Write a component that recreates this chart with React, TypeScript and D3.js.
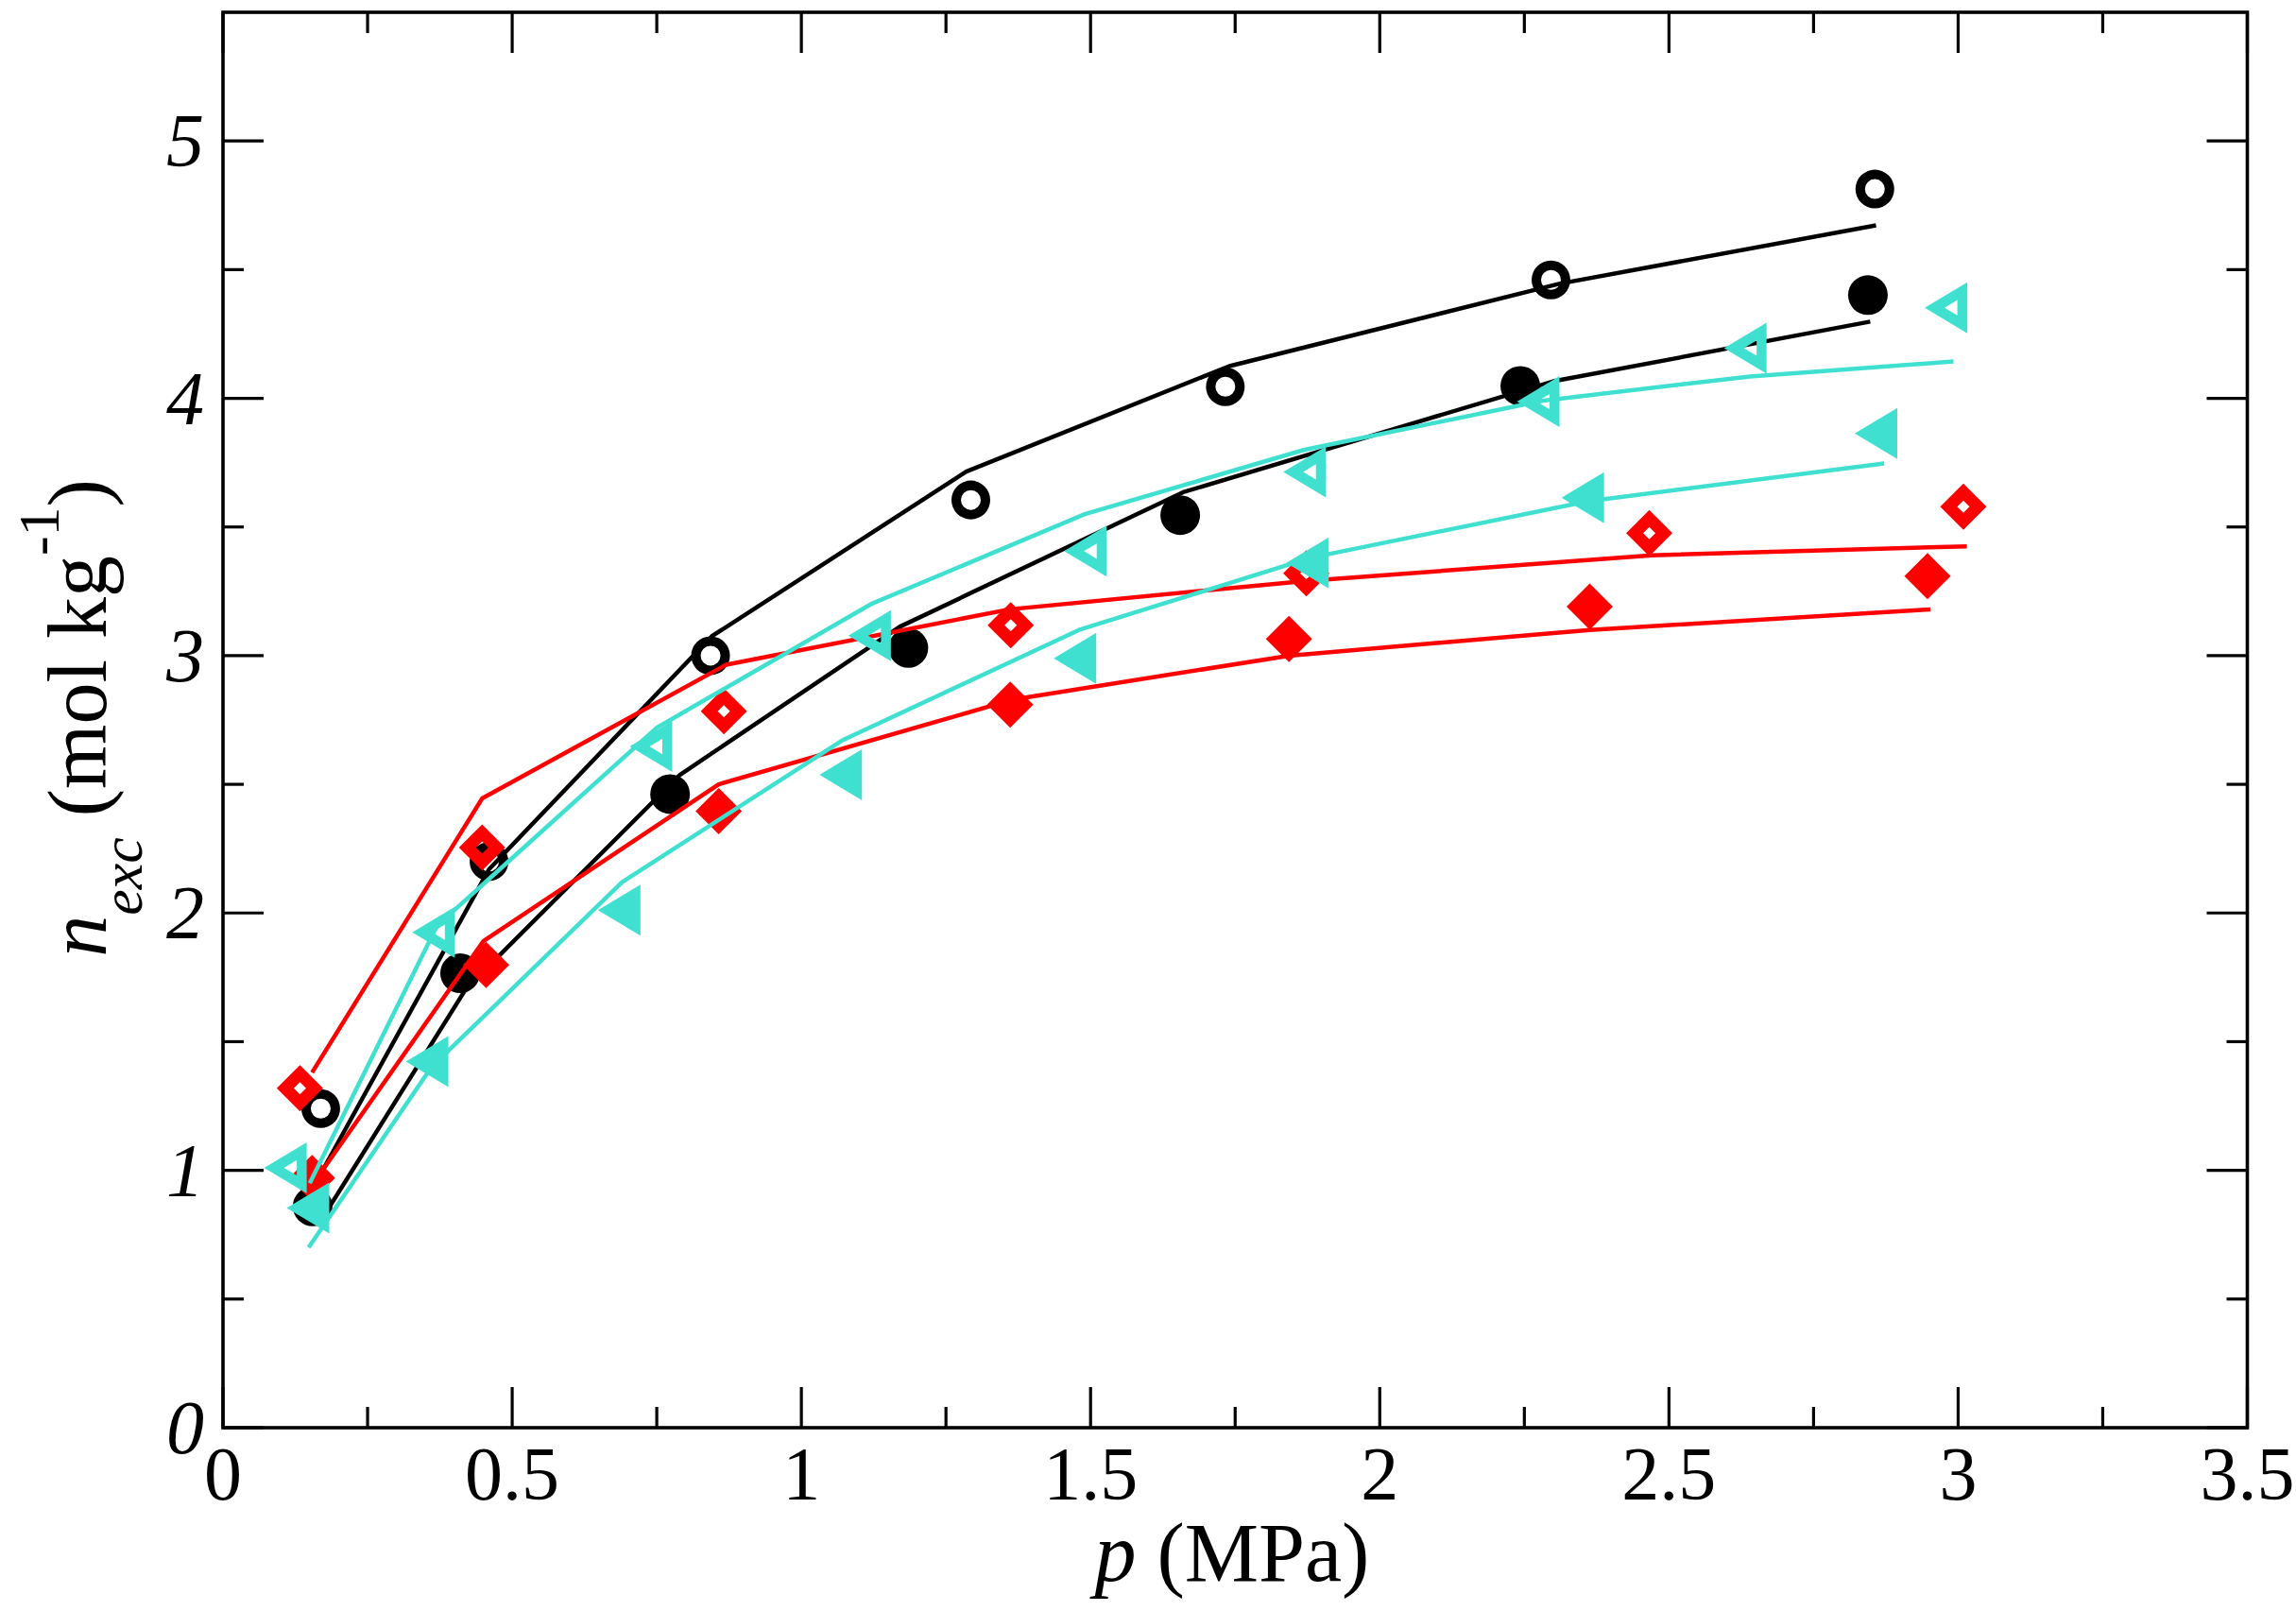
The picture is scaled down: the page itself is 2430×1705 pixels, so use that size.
import React from "react";
import * as d3 from "d3";

const W = 2430;
const H = 1705;

// Axis ticks
const xTickValues = [0, 0.5, 1, 1.5, 2, 2.5, 3, 3.5];
const xTickLabels = ["0", "0.5", "1", "1.5", "2", "2.5", "3", "3.5"];
const xMinorTicks = [0.25, 0.75, 1.25, 1.75, 2.25, 2.75, 3.25];
const yTickValues = [0, 1, 2, 3, 4, 5];
const yTickLabels = ["0", "1", "2", "3", "4", "5"];
const yMinorTicks = [0.5, 1.5, 2.5, 3.5, 4.5];

// Black, open circles (experiment) and its model line
const pBlackOpen = [0.169, 0.46, 0.843, 1.293, 1.733, 2.296, 2.856];
const nBlackOpen = [1.24, 2.2, 3.0, 3.605, 4.045, 4.46, 4.813];
const pBlackOpenFit = [0.16, 0.46, 0.845, 1.285, 1.74, 2.31, 2.858];
const nBlackOpenFit = [0.95, 2.17, 3.075, 3.715, 4.125, 4.445, 4.672];

// Black, filled circles
const pBlackFilled = [0.155, 0.41, 0.773, 1.185, 1.655, 2.243, 2.844];
const nBlackFilled = [0.86, 1.766, 2.462, 3.03, 3.546, 4.048, 4.401];
const pBlackFilledFit = [0.183, 0.42, 0.79, 1.17, 1.66, 2.3, 2.848];
const nBlackFilledFit = [0.854, 1.705, 2.537, 3.112, 3.635, 4.066, 4.298];

// Red, open diamonds
const pRedOpen = [0.133, 0.448, 0.866, 1.362, 1.873, 2.466, 3.009];
const nRedOpen = [1.319, 2.254, 2.784, 3.118, 3.32, 3.476, 3.579];
const pRedOpenFit = [0.154, 0.448, 0.87, 1.36, 1.87, 2.47, 3.015];
const nRedOpenFit = [1.38, 2.445, 2.965, 3.18, 3.29, 3.39, 3.425];

// Red, filled diamonds
const pRedFilled = [0.154, 0.455, 0.857, 1.361, 1.843, 2.363, 2.947];
const nRedFilled = [0.97, 1.798, 2.396, 2.81, 3.065, 3.191, 3.309];
const pRedFilledFit = [0.15, 0.45, 0.857, 1.367, 1.843, 2.363, 2.952];
const nRedFilledFit = [0.93, 1.89, 2.5, 2.83, 3.0, 3.1, 3.18];

// Turquoise, open left triangles
const pTurqOpen = [0.108, 0.364, 0.74, 1.118, 1.491, 1.87, 2.274, 2.632, 2.979];
const nTurqOpen = [1.01, 1.925, 2.647, 3.078, 3.406, 3.714, 3.987, 4.195, 4.352];
const pTurqOpenFit = [0.15, 0.37, 0.75, 1.12, 1.49, 1.87, 2.28, 2.64, 2.992];
const nTurqOpenFit = [0.95, 1.95, 2.72, 3.2, 3.55, 3.8, 3.99, 4.085, 4.143];

// Turquoise, filled left triangles
const pTurqFilled = [0.147, 0.353, 0.685, 1.068, 1.473, 1.875, 2.351, 2.858];
const nTurqFilled = [0.854, 1.423, 2.011, 2.537, 2.99, 3.36, 3.614, 3.863];
const pTurqFilledFit = [0.148, 0.36, 0.69, 1.07, 1.48, 1.88, 2.36, 2.872];
const nTurqFilledFit = [0.7, 1.4, 2.12, 2.67, 3.1, 3.38, 3.6, 3.747];

const BLACK = "#000000";
const RED = "#ff0000";
const TURQ = "#40e0d0";

type Marker = "circle" | "diamond" | "triangleLeft";

interface Series {
  color: string;
  marker: Marker;
  open: boolean;
  p: number[];
  n: number[];
  fitP: number[];
  fitN: number[];
}

const series: Series[] = [
  { color: BLACK, marker: "circle", open: true, p: pBlackOpen, n: nBlackOpen, fitP: pBlackOpenFit, fitN: nBlackOpenFit },
  { color: BLACK, marker: "circle", open: false, p: pBlackFilled, n: nBlackFilled, fitP: pBlackFilledFit, fitN: nBlackFilledFit },
  { color: RED, marker: "diamond", open: true, p: pRedOpen, n: nRedOpen, fitP: pRedOpenFit, fitN: nRedOpenFit },
  { color: RED, marker: "diamond", open: false, p: pRedFilled, n: nRedFilled, fitP: pRedFilledFit, fitN: nRedFilledFit },
  { color: TURQ, marker: "triangleLeft", open: true, p: pTurqOpen, n: nTurqOpen, fitP: pTurqOpenFit, fitN: nTurqOpenFit },
  { color: TURQ, marker: "triangleLeft", open: false, p: pTurqFilled, n: nTurqFilled, fitP: pTurqFilledFit, fitN: nTurqFilledFit },
];

const LEFT = 236;
const RIGHT = 2378.5;
const TOP = 13;
const BOTTOM = 1511;

const FONT = "'Liberation Serif', 'Times New Roman', Times, serif";

function circlePath(r: number): string {
  return `M${-r},0A${r},${r} 0 1,0 ${r},0A${r},${r} 0 1,0 ${-r},0Z`;
}
function diamondPath(r: number): string {
  return `M0,${-r}L${r},0L0,${r}L${-r},0Z`;
}
function triPath(s: number, cx: number): string {
  const tipX = cx + (-22.5 - cx) * s;
  const baseX = cx + (22.5 - cx) * s;
  const h = 27 * s;
  return `M${tipX},0L${baseX},${-h}L${baseX},${h}Z`;
}

function markerPath(m: Marker, open: boolean): string {
  if (m === "circle") {
    return open ? circlePath(20.5) + circlePath(10.5) : circlePath(21);
  }
  if (m === "diamond") {
    return open ? diamondPath(24.5) + diamondPath(6.5) : diamondPath(24.5);
  }
  const c = 7.5;
  return open ? triPath(1, c) + triPath(0.3, c) : triPath(1, c);
}

export default function App() {
  const x = d3.scaleLinear().domain([0, 3.5]).range([LEFT, RIGHT]);
  const y = d3.scaleLinear().domain([0, 5.5]).range([BOTTOM, TOP]);
  const line = d3
    .line<[number, number]>()
    .x((d) => x(d[0]))
    .y((d) => y(d[1]));

  const majorLen = 43;
  const minorLen = 22;
  const tickW = 3.2;

  return (
    <svg
      width={W}
      height={H}
      viewBox={`0 0 ${W} ${H}`}
      style={{ position: "absolute", left: 0, top: 0, display: "block", background: "#fff" }}
    >
      <rect x={0} y={0} width={W} height={H} fill="#fff" />

      {series.map((s, si) => {
        const fitPts = s.fitP.map((p, i) => [p, s.fitN[i]] as [number, number]);
        const d = markerPath(s.marker, s.open);
        return (
          <g key={si}>
            <path d={line(fitPts) || ""} fill="none" stroke={s.color} strokeWidth={4.5} strokeLinejoin="round" />
            {s.p.map((p, i) => (
              <path
                key={i}
                d={d}
                transform={`translate(${x(p)},${y(s.n[i])})`}
                fill={s.color}
                fillRule="evenodd"
              />
            ))}
          </g>
        );
      })}

      {/* ticks */}
      <g stroke="#000" strokeWidth={tickW}>
        {xTickValues.map((v, i) => (
          <g key={"xm" + i}>
            <line x1={x(v)} x2={x(v)} y1={BOTTOM} y2={BOTTOM - majorLen} />
            <line x1={x(v)} x2={x(v)} y1={TOP} y2={TOP + majorLen} />
          </g>
        ))}
        {xMinorTicks.map((v, i) => (
          <g key={"xn" + i}>
            <line x1={x(v)} x2={x(v)} y1={BOTTOM} y2={BOTTOM - minorLen} />
            <line x1={x(v)} x2={x(v)} y1={TOP} y2={TOP + minorLen} />
          </g>
        ))}
        {yTickValues.map((v, i) => (
          <g key={"ym" + i}>
            <line x1={LEFT} x2={LEFT + majorLen} y1={y(v)} y2={y(v)} />
            <line x1={RIGHT} x2={RIGHT - majorLen} y1={y(v)} y2={y(v)} />
          </g>
        ))}
        {yMinorTicks.map((v, i) => (
          <g key={"yn" + i}>
            <line x1={LEFT} x2={LEFT + minorLen} y1={y(v)} y2={y(v)} />
            <line x1={RIGHT} x2={RIGHT - minorLen} y1={y(v)} y2={y(v)} />
          </g>
        ))}
      </g>

      {/* frame */}
      <rect
        x={LEFT}
        y={TOP}
        width={RIGHT - LEFT}
        height={BOTTOM - TOP}
        fill="none"
        stroke="#000"
        strokeWidth={3.6}
      />

      {/* tick labels */}
      <g fontFamily={FONT} fontSize={80} fill="#000">
        {xTickValues.map((v, i) => (
          <text key={"xl" + i} x={x(v)} y={1587} textAnchor="middle">
            {xTickLabels[i]}
          </text>
        ))}
        {yTickValues.map((v, i) => (
          <text key={"yl" + i} x={216} y={y(v) + 27} textAnchor="end" fontStyle="italic">
            {yTickLabels[i]}
          </text>
        ))}
      </g>

      {/* x axis title */}
      <text x={1304} y={1673} textAnchor="middle" fontFamily={FONT} fontSize={88} fill="#000">
        <tspan fontStyle="italic">p</tspan>
        <tspan>{" (MPa)"}</tspan>
      </text>

      {/* y axis title */}
      <text
        transform="translate(112,760) rotate(-90)"
        textAnchor="middle"
        fontFamily={FONT}
        fontSize={88}
        fill="#000"
      >
        <tspan fontStyle="italic">n</tspan>
        <tspan fontStyle="italic" fontSize={62} dy={38}>
          exc
        </tspan>
        <tspan dy={-38}>{" (mol kg"}</tspan>
        <tspan fontSize={62} dy={-50}>
          -1
        </tspan>
        <tspan dy={50}>)</tspan>
      </text>
    </svg>
  );
}
